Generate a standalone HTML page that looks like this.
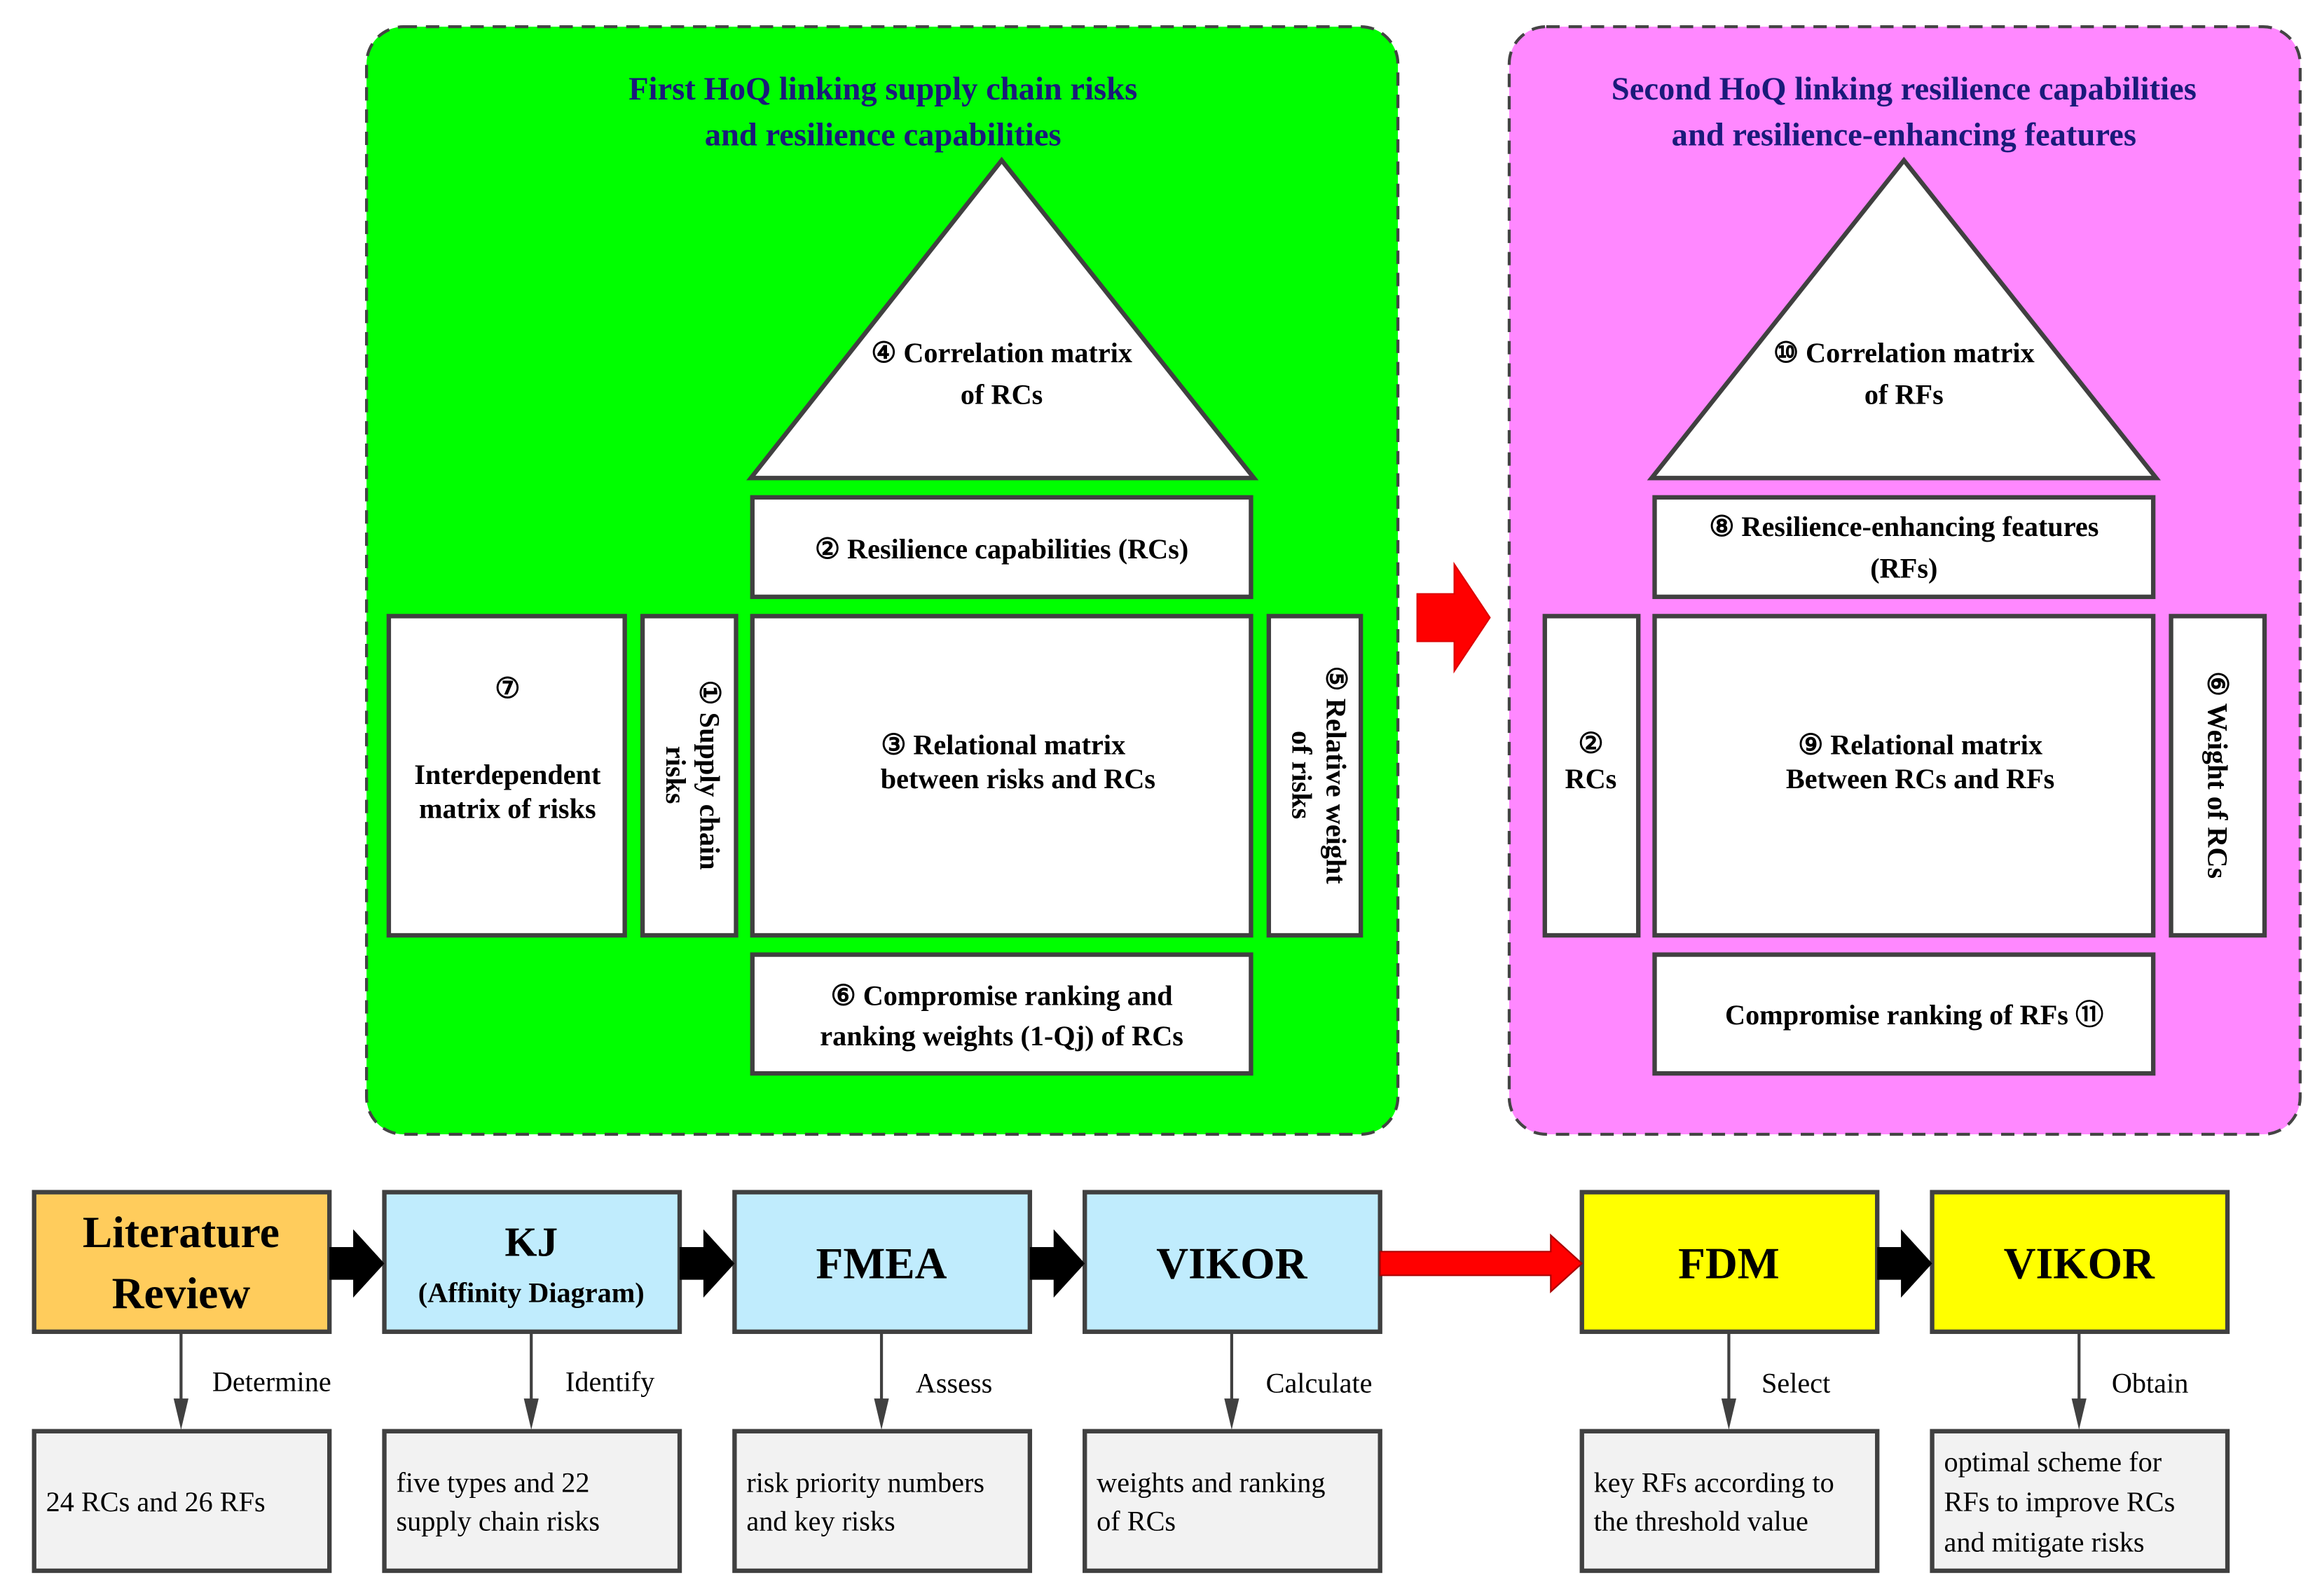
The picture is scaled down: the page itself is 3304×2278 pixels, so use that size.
<!DOCTYPE html>
<html><head><meta charset="utf-8"><style>html,body{margin:0;padding:0;background:#fff}svg{display:block}svg text{font-family:"Liberation Serif","Times New Roman",serif}</style></head>
<body>
<svg width="3304" height="2278" viewBox="0 0 1560 1075" preserveAspectRatio="none" xmlns="http://www.w3.org/2000/svg">
<!-- green panel -->
<rect x="247" y="18" width="695" height="746" rx="25" fill="#00ff00" stroke="#444" stroke-width="2" stroke-dasharray="9,6"/>
<text x="595" y="67" text-anchor="middle" font-size="22" font-weight="bold" fill="#1a1a7a">First HoQ linking supply chain risks</text>
<text x="595" y="98" text-anchor="middle" font-size="22" font-weight="bold" fill="#1a1a7a">and resilience capabilities</text>
<g stroke="#404040" stroke-width="3" fill="#fff">
<polygon points="675,108 506,322 845,322"/>
<rect x="507" y="335" width="336" height="67"/>
<rect x="262" y="415" width="159" height="215"/>
<rect x="433" y="415" width="63" height="215"/>
<rect x="507" y="415" width="336" height="215"/>
<rect x="855" y="415" width="62" height="215"/>
<rect x="507" y="643" width="336" height="80"/>
</g>
<g font-size="19" font-weight="bold" text-anchor="middle" fill="#000">
<text x="675" y="244">④ Correlation matrix</text>
<text x="675" y="272">of RCs</text>
<text x="675" y="376">② Resilience capabilities (RCs)</text>
<text x="342" y="470">⑦</text>
<text x="342" y="528">Interdependent</text>
<text x="342" y="551">matrix of risks</text>
<text x="676" y="508">③ Relational matrix</text>
<text x="686" y="531">between risks and RCs</text>
<text x="675" y="677">⑥ Compromise ranking and</text>
<text x="675" y="704">ranking weights (1-Qj) of RCs</text>
<text transform="translate(472,522) rotate(90)">① Supply chain</text>
<text transform="translate(449,522) rotate(90)">risks</text>
<text transform="translate(894,522) rotate(90)">⑤ Relative weight</text>
<text transform="translate(871,522) rotate(90)">of risks</text>
</g>
<!-- red arrow middle -->
<polygon points="955,400 980,400 980,380 1004,416 980,452 980,432 955,432" fill="#ff0000" stroke="#dd0000" stroke-width="1"/>
<!-- pink panel -->
<rect x="1017" y="18" width="533" height="746" rx="25" fill="#ff88ff" stroke="#444" stroke-width="2" stroke-dasharray="9,6"/>
<text x="1283" y="67" text-anchor="middle" font-size="22" font-weight="bold" fill="#1a1a7a">Second HoQ linking resilience capabilities</text>
<text x="1283" y="98" text-anchor="middle" font-size="22" font-weight="bold" fill="#1a1a7a">and resilience-enhancing features</text>
<g stroke="#404040" stroke-width="3" fill="#fff">
<polygon points="1283,108 1113,322 1453,322"/>
<rect x="1115" y="335" width="336" height="67"/>
<rect x="1041" y="415" width="63" height="215"/>
<rect x="1115" y="415" width="336" height="215"/>
<rect x="1463" y="415" width="63" height="215"/>
<rect x="1115" y="643" width="336" height="80"/>
</g>
<g font-size="19" font-weight="bold" text-anchor="middle" fill="#000">
<text x="1283" y="244">⑩ Correlation matrix</text>
<text x="1283" y="272">of RFs</text>
<text x="1283" y="361">⑧ Resilience-enhancing features</text>
<text x="1283" y="389">(RFs)</text>
<text x="1072" y="507">②</text>
<text x="1072" y="531">RCs</text>
<text x="1294" y="508">⑨ Relational matrix</text>
<text x="1294" y="531">Between RCs and RFs</text>
<text x="1290" y="690">Compromise ranking of RFs ⑪</text>
<text transform="translate(1488,522) rotate(90)">⑥ Weight of RCs</text>
</g>
<!-- bottom process boxes -->
<g stroke="#404040" stroke-width="3">
<rect x="23" y="803" width="199" height="94" fill="#ffcc5c"/>
<rect x="259" y="803" width="199" height="94" fill="#c0ecfd"/>
<rect x="495" y="803" width="199" height="94" fill="#c0ecfd"/>
<rect x="731" y="803" width="199" height="94" fill="#c0ecfd"/>
<rect x="1066" y="803" width="199" height="94" fill="#ffff00"/>
<rect x="1302" y="803" width="199" height="94" fill="#ffff00"/>
<rect x="23" y="964" width="199" height="94" fill="#f2f2f2"/>
<rect x="259" y="964" width="199" height="94" fill="#f2f2f2"/>
<rect x="495" y="964" width="199" height="94" fill="#f2f2f2"/>
<rect x="731" y="964" width="199" height="94" fill="#f2f2f2"/>
<rect x="1066" y="964" width="199" height="94" fill="#f2f2f2"/>
<rect x="1302" y="964" width="199" height="94" fill="#f2f2f2"/>
</g>
<!-- black arrows -->
<g fill="#000">
<polygon points="222,840 238,840 238,828 259,851 238,874 238,862 222,862"/>
<polygon points="458,840 474,840 474,828 495,851 474,874 474,862 458,862"/>
<polygon points="694,840 710,840 710,828 731,851 710,874 710,862 694,862"/>
<polygon points="1265,840 1281,840 1281,828 1302,851 1281,874 1281,862 1265,862"/>
</g>
<polygon points="930,843 1045,843 1045,832 1066,851 1045,870 1045,859 930,859" fill="#ff0000" stroke="#aa0000" stroke-width="1"/>
<!-- connectors -->
<g stroke="#404040" stroke-width="2">
<line x1="122" y1="898" x2="122" y2="945"/>
<line x1="358" y1="898" x2="358" y2="945"/>
<line x1="594" y1="898" x2="594" y2="945"/>
<line x1="830" y1="898" x2="830" y2="945"/>
<line x1="1165" y1="898" x2="1165" y2="945"/>
<line x1="1401" y1="898" x2="1401" y2="945"/>
</g>
<g fill="#404040">
<polygon points="117,942 127,942 122,963"/>
<polygon points="353,942 363,942 358,963"/>
<polygon points="589,942 599,942 594,963"/>
<polygon points="825,942 835,942 830,963"/>
<polygon points="1160,942 1170,942 1165,963"/>
<polygon points="1396,942 1406,942 1401,963"/>
</g>
<g font-size="19" fill="#000">
<text x="143" y="937">Determine</text>
<text x="381" y="937">Identify</text>
<text x="617" y="938">Assess</text>
<text x="853" y="938">Calculate</text>
<text x="1187" y="938">Select</text>
<text x="1423" y="938">Obtain</text>
<text x="31" y="1018">24 RCs and 26 RFs</text>
<text x="267" y="1005">five types and 22</text>
<text x="267" y="1031">supply chain risks</text>
<text x="503" y="1005">risk priority numbers</text>
<text x="503" y="1031">and key risks</text>
<text x="739" y="1005">weights and ranking</text>
<text x="739" y="1031">of RCs</text>
<text x="1074" y="1005">key RFs according to</text>
<text x="1074" y="1031">the threshold value</text>
<text x="1310" y="991">optimal scheme for</text>
<text x="1310" y="1018">RFs to improve RCs</text>
<text x="1310" y="1045">and mitigate risks</text>
</g>
<g font-weight="bold" text-anchor="middle" fill="#000">
<text x="122" y="840" font-size="30">Literature</text>
<text x="122" y="881" font-size="30">Review</text>
<text x="358" y="846" font-size="28">KJ</text>
<text x="358" y="877" font-size="19">(Affinity Diagram)</text>
<text x="594" y="861" font-size="30">FMEA</text>
<text x="830" y="861" font-size="30">VIKOR</text>
<text x="1165" y="861" font-size="30">FDM</text>
<text x="1401" y="861" font-size="30">VIKOR</text>
</g>
</svg>
</body></html>
